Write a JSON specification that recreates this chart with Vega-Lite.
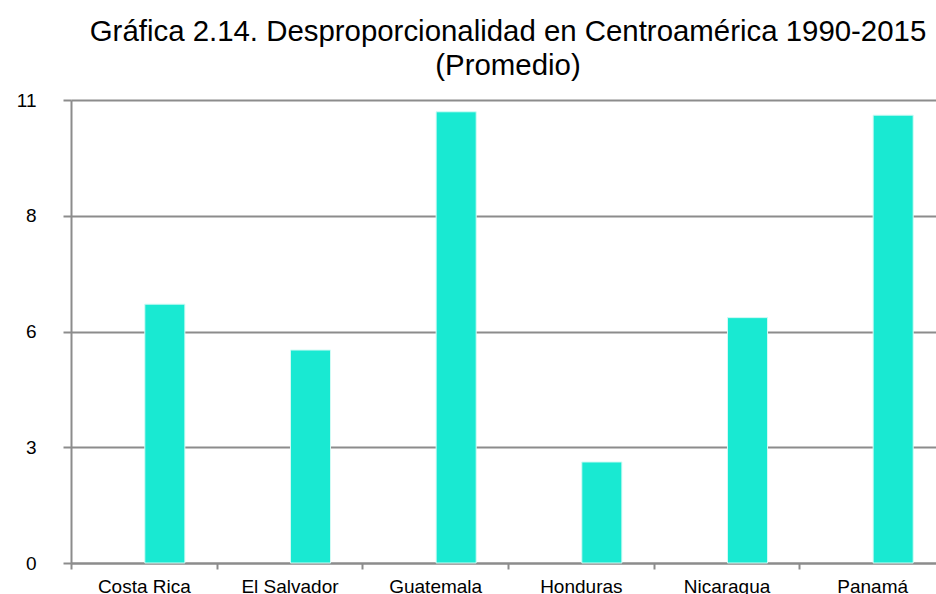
{
  "$schema": "https://vega.github.io/schema/vega-lite/v6.json",
  "width": 874,
  "height": 463,
  "padding": {"left": 16, "top": 16, "right": 0, "bottom": 0},
  "background": "white",
  "title": {
    "text": ["Gráfica 2.14. Desproporcionalidad en Centroamérica 1990-2015", "(Promedio)"],
    "fontSize": 29.4,
    "font": "Liberation Sans",
    "fontWeight": "normal",
    "color": "#000000",
    "lineHeight": 34,
    "anchor": "middle",
    "offset": 10
  },
  "data": {
    "values": [
      {"pais": "Costa Rica", "valor": 6.15},
      {"pais": "El Salvador", "valor": 5.06},
      {"pais": "Guatemala", "valor": 10.72},
      {"pais": "Honduras", "valor": 2.4},
      {"pais": "Nicaragua", "valor": 5.83},
      {"pais": "Panamá", "valor": 10.64}
    ]
  },
  "mark": {
    "type": "bar",
    "color": "#19E9D2",
    "stroke": "#d2fbf5",
    "strokeWidth": 1,
    "xOffset": 21,
    "width": {"band": 0.275}
  },
  "encoding": {
    "x": {
      "field": "pais",
      "type": "nominal",
      "sort": null,
      "scale": {"paddingInner": 0, "paddingOuter": 0},
      "axis": {
        "title": null,
        "labelAngle": 0,
        "labelFontSize": 19,
        "labelFont": "Liberation Sans",
        "labelColor": "#000000",
        "tickBand": "extent",
        "tickSize": 6,
        "tickColor": "#8c8c8c",
        "tickWidth": 2,
        "domainColor": "#8c8c8c",
        "domainWidth": 2,
        "labelPadding": 8,
        "grid": false
      }
    },
    "y": {
      "field": "valor",
      "type": "quantitative",
      "scale": {"domain": [0, 11], "nice": false, "zero": true},
      "axis": {
        "values": [0, 2.75, 5.5, 8.25, 11],
        "format": ".0f",
        "title": null,
        "labelFontSize": 19,
        "labelFont": "Liberation Sans",
        "labelColor": "#000000",
        "labelPadding": 27,
        "tickSize": 8,
        "tickColor": "#8c8c8c",
        "tickWidth": 2,
        "domainColor": "#8c8c8c",
        "domainWidth": 2,
        "gridColor": "#8c8c8c",
        "gridWidth": 2,
        "grid": true
      }
    }
  },
  "config": {"view": {"stroke": null}}
}
